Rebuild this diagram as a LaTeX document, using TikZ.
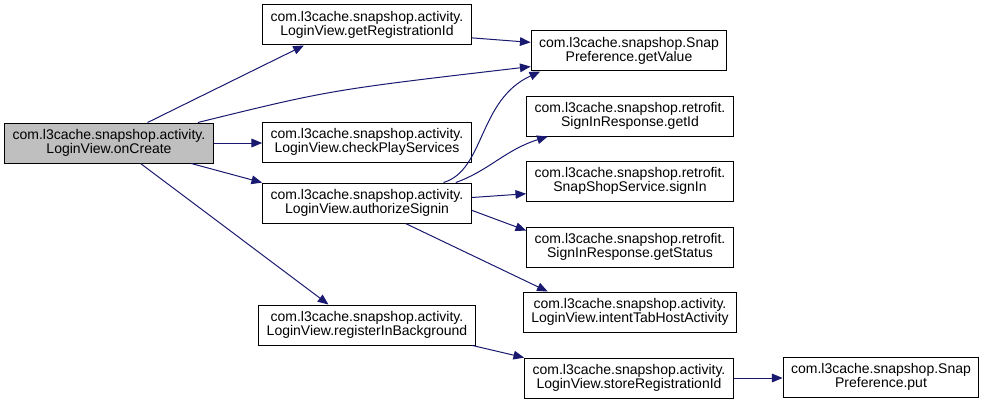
\documentclass[tikz,border=0pt]{standalone}
\usepackage{fontspec}
\setmainfont{Liberation Sans}
\usetikzlibrary{arrows.meta}
\definecolor{edgeblue}{HTML}{191970}
\definecolor{rootgray}{HTML}{BFBFBF}

\begin{document}
\begin{tikzpicture}[
    x=0.75pt, y=-0.75pt,
    fn node/.style = {draw=black, line width=0.75pt, fill=white, align=center, minimum height=30pt, inner xsep=6pt, inner ysep=1pt, font=\fontsize{10.5}{10}\selectfont},
    root node/.style = {fn node, fill=rootgray},
    call/.style = {draw=edgeblue, line width=0.75pt, -{Triangle[length=8pt,width=6.5pt]}}
]
\useasboundingbox (0,0) rectangle (984,403);

% --- ORIGEN ---
\node[root node] (onCreate) at (109,143) {com.l3cache.snapshop.activity.\\LoginView.onCreate};

% --- PRIMER NIVEL ---
\node[fn node] (getRegId) at (367,25) {com.l3cache.snapshop.activity.\\LoginView.getRegistrationId};
\node[fn node] (checkPlay) at (367,142) {com.l3cache.snapshop.activity.\\LoginView.checkPlayServices};
\node[fn node] (authSignin) at (367,203) {com.l3cache.snapshop.activity.\\LoginView.authorizeSignin};
\node[fn node] (registerBg) at (367,325) {com.l3cache.snapshop.activity.\\LoginView.registerInBackground};

% --- SEGUNDO NIVEL ---
\node[fn node] (getValue) at (629,51) {com.l3cache.snapshop.Snap\\Preference.getValue};
\node[fn node] (getId) at (630,116) {com.l3cache.snapshop.retrofit.\\SignInResponse.getId};
\node[fn node] (signIn) at (630,181) {com.l3cache.snapshop.retrofit.\\SnapShopService.signIn};
\node[fn node] (getStatus) at (630,247) {com.l3cache.snapshop.retrofit.\\SignInResponse.getStatus};
\node[fn node] (intentTab) at (630,312) {com.l3cache.snapshop.activity.\\LoginView.intentTabHostActivity};
\node[fn node] (storeRegId) at (629,378) {com.l3cache.snapshop.activity.\\LoginView.storeRegistrationId};

% --- TERCER NIVEL ---
\node[fn node] (put) at (881,377) {com.l3cache.snapshop.Snap\\Preference.put};

% --- LLAMADAS ---
\draw[call] (onCreate.28) -- (getRegId.198);
\draw[call] (onCreate.13) .. controls (330,90) .. (getValue.189);
\draw[call] (onCreate.east) -- (checkPlay.west |- onCreate.east);
\draw[call] (onCreate.-14) -- (authSignin.169);
\draw[call] (onCreate.-33) -- (registerBg.152);

\draw[call] (getRegId.-7) -- (getValue.175);

\draw[call] (authSignin.15) .. controls (485,170) and (478,100) .. (getValue.193);
\draw[call] (authSignin.13) .. controls (490,170) and (505,150) .. (getId.194);
\draw[call] (authSignin.3) -- (signIn.187);
\draw[call] (authSignin.-4) -- (getStatus.171);
\draw[call] (authSignin.-28) -- (intentTab.166);

\draw[call] (registerBg.-11) -- (storeRegId.169);
\draw[call] (storeRegId.east) -- (put.west |- storeRegId.east);

\end{tikzpicture}
\end{document}
